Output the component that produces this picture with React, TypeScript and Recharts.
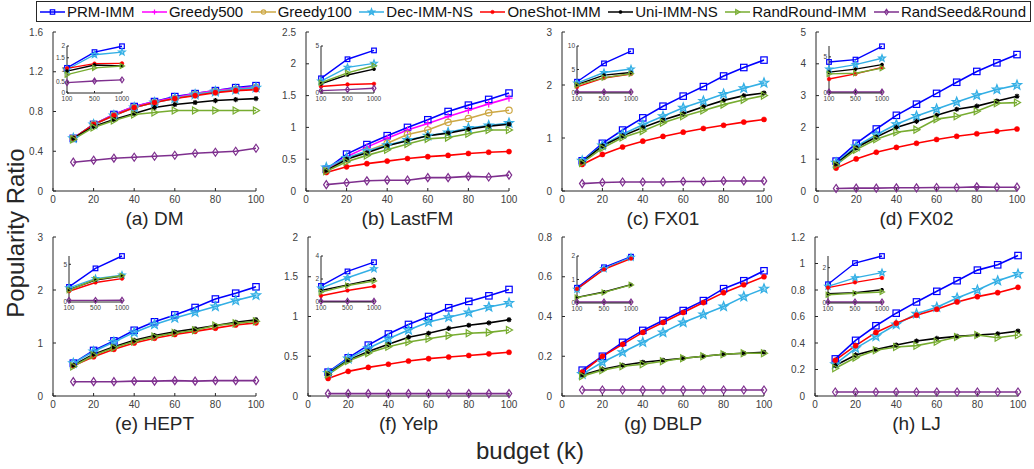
import { LineChart, Line, XAxis, YAxis } from "recharts";

const BUDGET = [10, 20, 30, 40, 50, 60, 70, 80, 90, 100];
const INSET_BUDGET = [100, 500, 1000];
const X_TICKS = [0, 20, 40, 60, 80, 100];

type Shape = "square" | "plus" | "circle" | "star" | "dot" | "asterisk" | "triangle" | "diamond";

const SERIES: { key: string; name: string; color: string; shape: Shape }[] = [
  { key: "prm", name: "PRM-IMM", color: "#0000ff", shape: "square" },
  { key: "g500", name: "Greedy500", color: "#ff00ff", shape: "plus" },
  { key: "g100", name: "Greedy100", color: "#cda845", shape: "circle" },
  { key: "dec", name: "Dec-IMM-NS", color: "#33afe5", shape: "star" },
  { key: "oneshot", name: "OneShot-IMM", color: "#ff0000", shape: "dot" },
  { key: "uni", name: "Uni-IMM-NS", color: "#000000", shape: "asterisk" },
  { key: "randround", name: "RandRound-IMM", color: "#77ac30", shape: "triangle" },
  { key: "randseed", name: "RandSeed&Round", color: "#7e2f8e", shape: "diamond" },
];

type Values = Record<string, number[]>;

// (a) DM
const DM_MAIN: Values = {
  prm: [0.53, 0.67, 0.77, 0.85, 0.9, 0.95, 0.98, 1.01, 1.04, 1.06],
  g500: [0.53, 0.67, 0.77, 0.85, 0.9, 0.94, 0.98, 1.01, 1.03, 1.05],
  g100: [0.53, 0.67, 0.76, 0.84, 0.89, 0.93, 0.97, 1.0, 1.02, 1.04],
  dec: [0.53, 0.67, 0.76, 0.84, 0.89, 0.93, 0.97, 1.0, 1.02, 1.04],
  oneshot: [0.53, 0.67, 0.76, 0.84, 0.89, 0.93, 0.96, 0.99, 1.01, 1.02],
  uni: [0.53, 0.65, 0.72, 0.78, 0.84, 0.87, 0.89, 0.91, 0.92, 0.93],
  randround: [0.52, 0.64, 0.71, 0.77, 0.79, 0.81, 0.81, 0.81, 0.81, 0.81],
  randseed: [0.29, 0.31, 0.33, 0.34, 0.35, 0.36, 0.38, 0.39, 0.4, 0.43],
};
const DM_INSET: Values = {
  prm: [1.07, 1.74, 1.99],
  dec: [1.0, 1.63, 1.74],
  oneshot: [1.05, 1.25, 1.26],
  uni: [0.93, 1.19, 1.15],
  randround: [0.78, 1.07, 1.15],
  randseed: [0.44, 0.51, 0.56],
};

// (b) LastFM
const LASTFM_MAIN: Values = {
  prm: [0.34, 0.58, 0.73, 0.87, 1.0, 1.12, 1.25, 1.35, 1.44, 1.54],
  g500: [0.33, 0.54, 0.69, 0.83, 0.96, 1.06, 1.17, 1.27, 1.37, 1.46],
  g100: [0.32, 0.5, 0.63, 0.75, 0.89, 0.96, 1.08, 1.14, 1.23, 1.27],
  dec: [0.37, 0.52, 0.63, 0.72, 0.8, 0.87, 0.92, 0.99, 1.03, 1.07],
  oneshot: [0.29, 0.38, 0.43, 0.47, 0.51, 0.54, 0.56, 0.59, 0.61, 0.62],
  uni: [0.32, 0.5, 0.6, 0.71, 0.79, 0.87, 0.91, 0.97, 1.02, 1.05],
  randround: [0.31, 0.46, 0.56, 0.65, 0.74, 0.82, 0.84, 0.9, 0.96, 0.96],
  randseed: [0.1, 0.13, 0.16, 0.17, 0.17, 0.21, 0.21, 0.23, 0.22, 0.25],
};
const LASTFM_INSET: Values = {
  prm: [1.56, 3.59, 4.53],
  dec: [1.27, 2.72, 3.15],
  oneshot: [0.69, 0.91, 0.98],
  uni: [0.98, 1.92, 2.54],
  randround: [1.09, 2.14, 2.9],
  randseed: [0.25, 0.36, 0.51],
};

// (c) FX01
const FX01_MAIN: Values = {
  prm: [0.57, 0.9, 1.15, 1.38, 1.6, 1.79, 1.97, 2.17, 2.33, 2.47],
  dec: [0.57, 0.86, 1.07, 1.25, 1.41, 1.57, 1.7, 1.83, 1.94, 2.04],
  oneshot: [0.5, 0.69, 0.83, 0.94, 1.03, 1.11, 1.18, 1.24, 1.3, 1.35],
  uni: [0.55, 0.85, 1.04, 1.2, 1.34, 1.46, 1.59, 1.71, 1.8, 1.85],
  randround: [0.53, 0.81, 1.01, 1.13, 1.29, 1.41, 1.52, 1.63, 1.72, 1.8],
  randseed: [0.14, 0.16, 0.17, 0.17, 0.17, 0.18, 0.18, 0.19, 0.19, 0.19],
};
const FX01_INSET: Values = {
  prm: [2.4, 6.3, 8.9],
  dec: [2.1, 4.35, 5.1],
  oneshot: [1.3, 3.2, 4.05],
  uni: [1.8, 3.8, 4.35],
  randround: [1.67, 3.26, 4.1],
  randseed: [0.2, 0.2, 0.2],
};

// (d) FX02
const FX02_MAIN: Values = {
  prm: [0.94, 1.5, 1.95, 2.38, 2.73, 3.07, 3.42, 3.76, 4.03, 4.29],
  dec: [0.89, 1.4, 1.77, 2.1, 2.36, 2.58, 2.8, 3.01, 3.19, 3.33],
  oneshot: [0.72, 1.01, 1.22, 1.37, 1.5, 1.62, 1.72, 1.8, 1.88, 1.95],
  uni: [0.85, 1.36, 1.7, 2.0, 2.19, 2.38, 2.57, 2.67, 2.83, 2.98],
  randround: [0.82, 1.3, 1.63, 1.85, 1.93, 2.26, 2.35, 2.51, 2.76, 2.78],
  randseed: [0.08, 0.09, 0.09, 0.1, 0.1, 0.11, 0.11, 0.13, 0.12, 0.12],
};
const FX02_INSET: Values = {
  prm: [4.29, 4.62, 6.46],
  dec: [3.3, 3.92, 4.81],
  oneshot: [1.93, 2.64, 3.54],
  uni: [2.88, 3.3, 3.92],
  randround: [2.64, 2.74, 3.44],
  randseed: [0.14, 0.14, 0.14],
};

// (e) HEPT
const HEPT_MAIN: Values = {
  prm: [0.62, 0.86, 1.04, 1.24, 1.4, 1.53, 1.67, 1.83, 1.94, 2.06],
  dec: [0.62, 0.84, 1.02, 1.2, 1.35, 1.47, 1.58, 1.69, 1.8, 1.9],
  oneshot: [0.57, 0.74, 0.88, 1.0, 1.09, 1.16, 1.22, 1.28, 1.34, 1.38],
  uni: [0.58, 0.79, 0.93, 1.05, 1.14, 1.21, 1.27, 1.33, 1.39, 1.44],
  randround: [0.56, 0.77, 0.91, 1.03, 1.12, 1.19, 1.24, 1.33, 1.37, 1.41],
  randseed: [0.27, 0.27, 0.27, 0.28, 0.28, 0.29, 0.28, 0.29, 0.29, 0.29],
};
const HEPT_INSET: Values = {
  prm: [2.0, 4.46, 6.1],
  dec: [1.88, 3.1, 3.57],
  oneshot: [1.43, 2.59, 3.1],
  uni: [1.65, 2.9, 3.44],
  randround: [1.56, 3.0, 3.48],
  randseed: [0.22, 0.22, 0.24],
};

// (f) Yelp
const YELP_MAIN: Values = {
  prm: [0.3, 0.48, 0.64, 0.78, 0.9, 1.0, 1.11, 1.19, 1.26, 1.34],
  dec: [0.29, 0.47, 0.6, 0.72, 0.83, 0.93, 0.99, 1.05, 1.12, 1.17],
  oneshot: [0.22, 0.31, 0.36, 0.4, 0.44, 0.47, 0.49, 0.51, 0.53, 0.55],
  uni: [0.28, 0.45, 0.56, 0.65, 0.74, 0.79, 0.85, 0.89, 0.92, 0.96],
  randround: [0.27, 0.44, 0.54, 0.62, 0.68, 0.72, 0.76, 0.79, 0.8, 0.83],
  randseed: [0.03, 0.03, 0.03, 0.03, 0.03, 0.03, 0.03, 0.03, 0.03, 0.03],
};
const YELP_INSET: Values = {
  prm: [1.4, 2.66, 3.46],
  dec: [1.2, 2.11, 2.89],
  oneshot: [0.54, 1.0, 1.37],
  uni: [1.0, 1.49, 1.97],
  randround: [0.86, 1.43, 1.83],
  randseed: [0.06, 0.06, 0.06],
};

// (g) DBLP
const DBLP_MAIN: Values = {
  prm: [0.13, 0.2, 0.27, 0.33, 0.38, 0.43, 0.48, 0.54, 0.58, 0.63],
  dec: [0.11, 0.17, 0.22, 0.27, 0.32, 0.37, 0.41, 0.45, 0.5, 0.54],
  oneshot: [0.12, 0.2, 0.26, 0.32, 0.37, 0.42, 0.47, 0.52, 0.56, 0.6],
  uni: [0.105, 0.135, 0.155, 0.17, 0.18, 0.19, 0.2, 0.21, 0.215, 0.22],
  randround: [0.1, 0.13, 0.15, 0.16, 0.175, 0.19, 0.2, 0.21, 0.215, 0.215],
  randseed: [0.03, 0.03, 0.03, 0.03, 0.03, 0.03, 0.03, 0.03, 0.03, 0.03],
};
const DBLP_INSET: Values = {
  prm: [0.65, 1.52, 1.97],
  dec: [0.58, 1.46, 1.94],
  oneshot: [0.6, 1.43, 1.89],
  uni: [0.24, 0.47, 0.78],
  randround: [0.23, 0.45, 0.77],
  randseed: [0.04, 0.04, 0.04],
};

// (h) LJ
const LJ_MAIN: Values = {
  prm: [0.28, 0.42, 0.53, 0.625, 0.71, 0.79, 0.87, 0.95, 0.99, 1.06],
  dec: [0.24, 0.36, 0.45, 0.54, 0.62, 0.67, 0.74, 0.8, 0.87, 0.92],
  oneshot: [0.27, 0.38, 0.48, 0.55, 0.61, 0.655, 0.71, 0.75, 0.78, 0.82],
  uni: [0.23, 0.31, 0.35, 0.385, 0.415, 0.435, 0.45, 0.46, 0.47, 0.49],
  randround: [0.21, 0.29, 0.345, 0.37, 0.38, 0.41, 0.445, 0.46, 0.44, 0.46],
  randseed: [0.03, 0.03, 0.03, 0.03, 0.03, 0.03, 0.03, 0.03, 0.03, 0.03],
};
const LJ_INSET: Values = {
  prm: [1.06, 2.26, 2.66],
  dec: [0.94, 1.42, 1.72],
  oneshot: [0.87, 1.17, 1.42],
  uni: [0.53, 0.58, 0.75],
  randround: [0.47, 0.55, 0.62],
  randseed: [0.06, 0.06, 0.06],
};

type Rect = { x: number; y: number; w: number; h: number };
type PanelDef = {
  title: string;
  main: Values;
  inset: Values;
  plot: Rect;
  yMax: number;
  yTicks: number[];
  insetRect: Rect;
  insetMax: number;
  insetTicks: number[];
};

const PANELS: PanelDef[] = [
  { title: "(a) DM", main: DM_MAIN, inset: DM_INSET, plot: { x: 53, y: 32, w: 203, h: 159 }, yMax: 1.6, yTicks: [0, 0.4, 0.8, 1.2, 1.6], insetRect: { x: 67, y: 46, w: 55, h: 47 }, insetMax: 2, insetTicks: [0, 0.5, 1, 1.5, 2] },
  { title: "(b) LastFM", main: LASTFM_MAIN, inset: LASTFM_INSET, plot: { x: 306, y: 32, w: 203, h: 159 }, yMax: 2.5, yTicks: [0, 0.5, 1, 1.5, 2, 2.5], insetRect: { x: 321, y: 46, w: 53, h: 47 }, insetMax: 5, insetTicks: [0, 5] },
  { title: "(c) FX01", main: FX01_MAIN, inset: FX01_INSET, plot: { x: 562, y: 32, w: 202, h: 159 }, yMax: 3, yTicks: [0, 1, 2, 3], insetRect: { x: 577, y: 46, w: 54, h: 47 }, insetMax: 10, insetTicks: [0, 5, 10] },
  { title: "(d) FX02", main: FX02_MAIN, inset: FX02_INSET, plot: { x: 816, y: 32, w: 201, h: 159 }, yMax: 5, yTicks: [0, 1, 2, 3, 4, 5], insetRect: { x: 829, y: 46, w: 53, h: 47 }, insetMax: 6.5, insetTicks: [0, 5] },
  { title: "(e) HEPT", main: HEPT_MAIN, inset: HEPT_INSET, plot: { x: 53, y: 237, w: 203, h: 159 }, yMax: 3, yTicks: [0, 1, 2, 3], insetRect: { x: 69, y: 256, w: 53, h: 46 }, insetMax: 6.1, insetTicks: [0, 5] },
  { title: "(f) Yelp", main: YELP_MAIN, inset: YELP_INSET, plot: { x: 308, y: 237, w: 201, h: 159 }, yMax: 2, yTicks: [0, 0.5, 1, 1.5, 2], insetRect: { x: 321, y: 256, w: 53, h: 46 }, insetMax: 4, insetTicks: [0, 2, 4] },
  { title: "(g) DBLP", main: DBLP_MAIN, inset: DBLP_INSET, plot: { x: 562, y: 237, w: 202, h: 159 }, yMax: 0.8, yTicks: [0, 0.2, 0.4, 0.6, 0.8], insetRect: { x: 577, y: 256, w: 54, h: 47 }, insetMax: 2, insetTicks: [0, 1, 2] },
  { title: "(h) LJ", main: LJ_MAIN, inset: LJ_INSET, plot: { x: 815, y: 237, w: 203, h: 159 }, yMax: 1.2, yTicks: [0, 0.2, 0.4, 0.6, 0.8, 1, 1.2], insetRect: { x: 828, y: 256, w: 54, h: 47 }, insetMax: 2.66, insetTicks: [0, 2] },
];

const FONT = "'Liberation Sans', Arial, Helvetica, sans-serif";
const AXIS = "#262626";
const TEXT = "#404040";

function toRows(xs: number[], vals: Values) {
  return xs.map((k, i) => {
    const row: Record<string, number> = { k };
    Object.keys(vals).forEach((key) => {
      row[key] = vals[key][i];
    });
    return row;
  });
}

function Marker({ cx, cy, shape, color, s }: { cx?: number; cy?: number; shape: Shape; color: string; s: number }) {
  if (cx == null || cy == null || isNaN(cx) || isNaN(cy)) return null;
  const sw = 1.2;
  switch (shape) {
    case "square":
      return <rect x={cx - s} y={cy - s} width={2 * s} height={2 * s} fill="none" stroke={color} strokeWidth={sw} />;
    case "plus":
      return <path d={`M${cx - s * 1.1},${cy}H${cx + s * 1.1}M${cx},${cy - s * 1.1}V${cy + s * 1.1}`} stroke={color} strokeWidth={sw} />;
    case "circle":
      return <circle cx={cx} cy={cy} r={s} fill="none" stroke={color} strokeWidth={sw} />;
    case "star": {
      const pts: string[] = [];
      const ro = s * 1.5;
      const ri = ro * 0.42;
      for (let j = 0; j < 10; j++) {
        const a = -Math.PI / 2 + (j * Math.PI) / 5;
        const r = j % 2 === 0 ? ro : ri;
        pts.push(`${cx + r * Math.cos(a)},${cy + r * Math.sin(a)}`);
      }
      return <polygon points={pts.join(" ")} fill={color} fillOpacity={0.45} stroke={color} strokeWidth={sw} />;
    }
    case "dot":
      return <circle cx={cx} cy={cy} r={s * 0.8} fill={color} stroke={color} strokeWidth={0.5} />;
    case "asterisk": {
      const a = s * 0.8;
      const d = a * 0.7;
      return (
        <path
          d={`M${cx - a},${cy}H${cx + a}M${cx},${cy - a}V${cy + a}M${cx - d},${cy - d}L${cx + d},${cy + d}M${cx - d},${cy + d}L${cx + d},${cy - d}`}
          stroke={color}
          strokeWidth={sw}
        />
      );
    }
    case "triangle":
      return (
        <polygon
          points={`${cx - s * 0.8},${cy - s * 1.1} ${cx + s * 1.1},${cy} ${cx - s * 0.8},${cy + s * 1.1}`}
          fill="none"
          stroke={color}
          strokeWidth={sw}
        />
      );
    case "diamond":
      return (
        <polygon
          points={`${cx},${cy - s * 1.25} ${cx + s * 0.85},${cy} ${cx},${cy + s * 1.25} ${cx - s * 0.85},${cy}`}
          fill="none"
          stroke={color}
          strokeWidth={sw}
        />
      );
  }
  return null;
}

function seriesLines(vals: Values, markerSize: number, width: number) {
  return SERIES.filter((s) => vals[s.key]).map((s) => (
    <Line
      key={s.key}
      dataKey={s.key}
      stroke={s.color}
      strokeWidth={width}
      isAnimationActive={false}
      activeDot={false}
      dot={(p: any) => <Marker key={`${s.key}-${p.index}`} cx={p.cx} cy={p.cy} shape={s.shape} color={s.color} s={markerSize} />}
    />
  ));
}

function MainPanel({ p }: { p: PanelDef }) {
  const YW = 45;
  const MT = 6;
  const MR = 10;
  const XH = 28;
  const { x, y, w, h } = p.plot;
  const rows = toRows(BUDGET, p.main);
  return (
    <div style={{ position: "absolute", left: x - YW, top: y - MT }}>
      <LineChart width={YW + w + MR} height={MT + h + XH} data={rows} margin={{ top: MT, right: MR, bottom: 0, left: 0 }}>
        <XAxis
          dataKey="k"
          type="number"
          domain={[0, 100]}
          ticks={X_TICKS}
          interval={0}
          height={XH}
          tickSize={-3}
          tickMargin={8}
          stroke={AXIS}
          tick={{ fill: TEXT, fontSize: 10, fontFamily: FONT }}
        />
        <XAxis
          xAxisId="top"
          orientation="top"
          dataKey="k"
          type="number"
          domain={[0, 100]}
          ticks={X_TICKS}
          interval={0}
          height={0}
          tickSize={-3}
          stroke={AXIS}
          tickFormatter={() => ""}
        />
        <YAxis
          domain={[0, p.yMax]}
          ticks={p.yTicks}
          interval={0}
          width={YW}
          tickSize={-3}
          tickMargin={13}
          stroke={AXIS}
          tick={{ fill: TEXT, fontSize: 10, fontFamily: FONT }}
        />
        <YAxis
          yAxisId="right"
          orientation="right"
          domain={[0, p.yMax]}
          ticks={p.yTicks}
          interval={0}
          width={0}
          tickSize={-3}
          stroke={AXIS}
          tickFormatter={() => ""}
        />
        {seriesLines(p.main, 3.2, 1.6)}
      </LineChart>
    </div>
  );
}

function InsetPanel({ p }: { p: PanelDef }) {
  const YW = 16;
  const MT = 5;
  const MR = 10;
  const XH = 16;
  const { x, y, w, h } = p.insetRect;
  const rows = toRows(INSET_BUDGET, p.inset);
  return (
    <div style={{ position: "absolute", left: x - YW, top: y - MT }}>
      <LineChart width={YW + w + MR} height={MT + h + XH} data={rows} margin={{ top: MT, right: MR, bottom: 0, left: 0 }}>
        <XAxis
          dataKey="k"
          interval={0}
          height={XH}
          tickSize={-2}
          tickMargin={5}
          stroke={AXIS}
          tick={{ fill: TEXT, fontSize: 6.5, fontFamily: FONT }}
        />
        <XAxis xAxisId="top" orientation="top" dataKey="k" interval={0} height={0} tickSize={-2} stroke={AXIS} tickFormatter={() => ""} />
        <YAxis
          domain={[0, p.insetMax]}
          ticks={p.insetTicks}
          interval={0}
          width={YW}
          tickSize={-2}
          tickMargin={4}
          stroke={AXIS}
          tick={{ fill: TEXT, fontSize: 6.5, fontFamily: FONT }}
        />
        <YAxis
          yAxisId="right"
          orientation="right"
          domain={[0, p.insetMax]}
          ticks={p.insetTicks}
          interval={0}
          width={0}
          tickSize={-2}
          stroke={AXIS}
          tickFormatter={() => ""}
        />
        {seriesLines(p.inset, 2.3, 1.4)}
      </LineChart>
    </div>
  );
}

function Legend() {
  return (
    <div
      style={{
        position: "absolute",
        left: 36,
        top: 1,
        width: 995,
        height: 21,
        boxSizing: "border-box",
        border: `1px solid ${AXIS}`,
        display: "flex",
        alignItems: "center",
        justifyContent: "space-between",
        padding: "0 4px 0 3px",
        fontFamily: FONT,
        fontSize: 15,
        color: "#111",
        background: "#fff",
      }}
    >
      {SERIES.map((s) => (
        <div key={s.key} style={{ display: "flex", alignItems: "center", whiteSpace: "nowrap" }}>
          <svg width={25} height={12} style={{ marginRight: 2 }}>
            <line x1={0} y1={6} x2={25} y2={6} stroke={s.color} strokeWidth={1.5} />
            <Marker cx={12.5} cy={6} shape={s.shape} color={s.color} s={2.2} />
          </svg>
          <span>{s.name}</span>
        </div>
      ))}
    </div>
  );
}

export default function App() {
  return (
    <div style={{ position: "fixed", left: 0, top: 0, width: 1034, height: 469, background: "#fff", fontFamily: FONT, overflow: "hidden" }}>
      <Legend />
      {PANELS.map((p) => (
        <div key={p.title}>
          <MainPanel p={p} />
          <InsetPanel p={p} />
          <div
            style={{
              position: "absolute",
              left: p.plot.x + p.plot.w / 2 - 100,
              top: p.plot.y + p.plot.h + 16,
              width: 200,
              textAlign: "center",
              fontSize: 19,
              lineHeight: "24px",
              color: "#262626",
            }}
          >
            {p.title}
          </div>
        </div>
      ))}
      <div style={{ position: "absolute", left: 430, top: 437, width: 200, textAlign: "center", fontSize: 24, lineHeight: "28px", color: "#262626" }}>
        budget (k)
      </div>
      <div
        style={{
          position: "absolute",
          left: 16 - 100,
          top: 233 - 14,
          width: 200,
          height: 28,
          textAlign: "center",
          fontSize: 24,
          lineHeight: "28px",
          color: "#262626",
          transform: "rotate(-90deg)",
        }}
      >
        Popularity Ratio
      </div>
    </div>
  );
}
